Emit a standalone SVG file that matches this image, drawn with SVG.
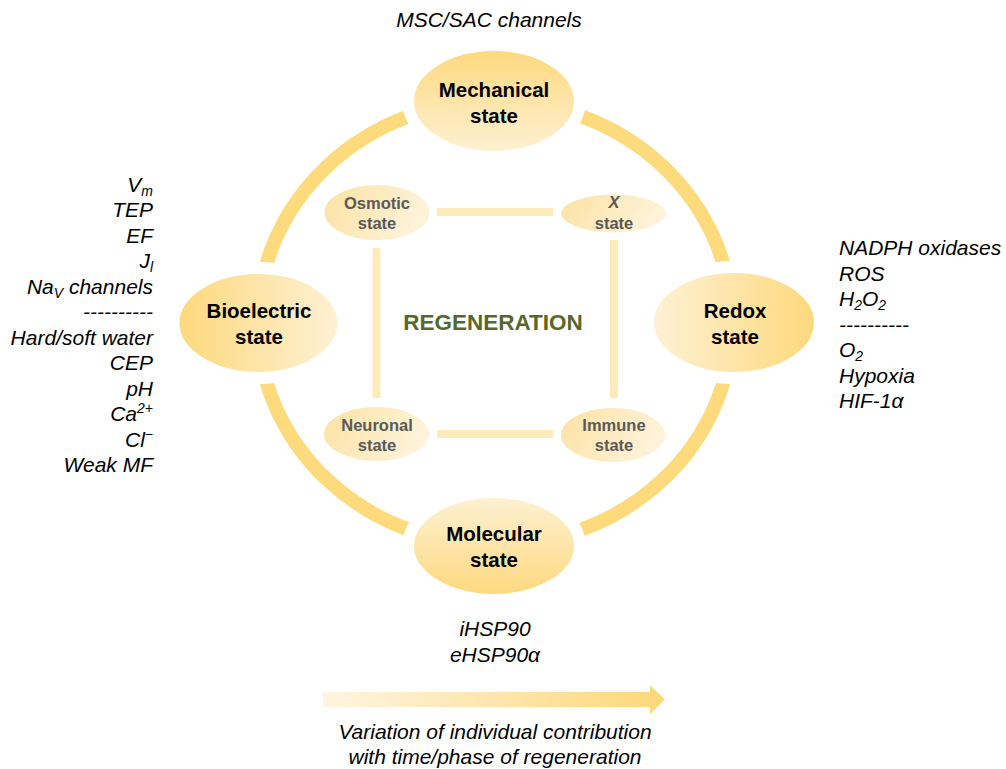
<svg xmlns="http://www.w3.org/2000/svg" width="1006" height="769" viewBox="0 0 1006 769">
  <defs>
    <linearGradient id="gTop" x1="0" y1="0" x2="0" y2="1">
      <stop offset="0" stop-color="#FDD87A"/>
      <stop offset="1" stop-color="#FEF2D7"/>
    </linearGradient>
    <linearGradient id="gBottom" x1="0" y1="1" x2="0" y2="0">
      <stop offset="0" stop-color="#FDD87A"/>
      <stop offset="1" stop-color="#FEF2D7"/>
    </linearGradient>
    <linearGradient id="gLeft" x1="0" y1="0" x2="1" y2="0">
      <stop offset="0" stop-color="#FDD87A"/>
      <stop offset="1" stop-color="#FEF2D7"/>
    </linearGradient>
    <linearGradient id="gRight" x1="1" y1="0" x2="0" y2="0">
      <stop offset="0" stop-color="#FDD87A"/>
      <stop offset="1" stop-color="#FEF2D7"/>
    </linearGradient>
    <linearGradient id="gInner" x1="0" y1="0" x2="1" y2="0.3">
      <stop offset="0" stop-color="#FCE1A0"/>
      <stop offset="1" stop-color="#FEF3DA"/>
    </linearGradient>
    <linearGradient id="gArrow" x1="0" y1="0" x2="1" y2="0">
      <stop offset="0" stop-color="#FEF4E0"/>
      <stop offset="1" stop-color="#FDD879"/>
    </linearGradient>
    <style>
      .ring { fill: none; stroke: #FDDA7C; stroke-width: 14; }
      .link { stroke: #FEEBBA; stroke-width: 8; }
      .big { stroke: #FFFFFF; stroke-width: 12; }
      .small { stroke: #FFFFFF; stroke-width: 6; }
      .lbl { font-family: "Liberation Sans", Arial, sans-serif; font-weight: bold; font-size: 20.5px; fill: #000; text-anchor: middle; }
      .ilbl { font-family: "Liberation Sans", Arial, sans-serif; font-weight: bold; font-size: 16.5px; fill: #595959; text-anchor: middle; }
      .note { font-family: "Liberation Sans", Arial, sans-serif; font-style: italic; font-size: 21px; fill: #000; }
      .regen { font-family: "Liberation Sans", Arial, sans-serif; font-weight: bold; font-size: 22.5px; fill: #56692B; text-anchor: middle; }
    </style>
  </defs>

  <rect width="1006" height="769" fill="#FFFFFF"/>

  <!-- outer ring and inner square links -->
  <g id="connectors">
    <ellipse class="ring" cx="495" cy="323" rx="237" ry="222"/>
    <line class="link" x1="437" y1="212" x2="553" y2="212"/>
    <line class="link" x1="437" y1="434" x2="553" y2="434"/>
    <line class="link" x1="376.5" y1="248" x2="376.5" y2="398"/>
    <line class="link" x1="614" y1="240" x2="614" y2="398"/>
  </g>

  <!-- main states -->
  <g id="mechanical">
    <ellipse class="big" cx="494" cy="101" rx="86" ry="56" fill="url(#gTop)"/>
    <text class="lbl" x="494" y="97">Mechanical</text>
    <text class="lbl" x="494" y="123">state</text>
  </g>
  <g id="bioelectric">
    <ellipse class="big" cx="258.5" cy="323" rx="85" ry="55" fill="url(#gLeft)"/>
    <text class="lbl" x="259" y="318">Bioelectric</text>
    <text class="lbl" x="259" y="344">state</text>
  </g>
  <g id="redox">
    <ellipse class="big" cx="734" cy="322.5" rx="86" ry="55.5" fill="url(#gRight)"/>
    <text class="lbl" x="735" y="318">Redox</text>
    <text class="lbl" x="735" y="344">state</text>
  </g>
  <g id="molecular">
    <ellipse class="big" cx="494" cy="546" rx="86" ry="54" fill="url(#gBottom)"/>
    <text class="lbl" x="494" y="541">Molecular</text>
    <text class="lbl" x="494" y="567">state</text>
  </g>

  <!-- inner states -->
  <g id="osmotic">
    <ellipse class="small" cx="377" cy="212.5" rx="55.5" ry="30.5" fill="url(#gInner)"/>
    <text class="ilbl" x="377" y="209">Osmotic</text>
    <text class="ilbl" x="377" y="229">state</text>
  </g>
  <g id="x-state">
    <ellipse class="small" cx="613.5" cy="213.5" rx="55.5" ry="22" fill="url(#gInner)"/>
    <text class="ilbl" x="614" y="208" font-style="italic">X</text>
    <text class="ilbl" x="614" y="229">state</text>
  </g>
  <g id="neuronal">
    <ellipse class="small" cx="376.5" cy="434" rx="55.5" ry="30" fill="url(#gInner)"/>
    <text class="ilbl" x="377" y="431">Neuronal</text>
    <text class="ilbl" x="377" y="451">state</text>
  </g>
  <g id="immune">
    <ellipse class="small" cx="613" cy="435" rx="55" ry="30" fill="url(#gInner)"/>
    <text class="ilbl" x="614" y="431">Immune</text>
    <text class="ilbl" x="614" y="451">state</text>
  </g>

  <g id="regeneration">
    <text class="regen" x="493" y="330">REGENERATION</text>
  </g>

  <!-- factor lists -->
  <g id="mechanical-factors">
    <text class="note" x="489" y="27" text-anchor="middle">MSC/SAC channels</text>
  </g>

  <g id="bioelectric-factors" text-anchor="end">
    <text class="note" x="153" y="191.5">V<tspan font-size="14" dy="4">m</tspan></text>
    <text class="note" x="153" y="217">TEP</text>
    <text class="note" x="153" y="242.5">EF</text>
    <text class="note" x="153" y="268">J<tspan font-size="14" dy="4">l</tspan></text>
    <text class="note" x="153" y="293.5">Na<tspan font-size="14" dy="4">V</tspan><tspan dy="-4"> channels</tspan></text>
    <text class="note" x="153" y="319">----------</text>
    <text class="note" x="153" y="344.5">Hard/soft water</text>
    <text class="note" x="153" y="370">CEP</text>
    <text class="note" x="153" y="395.5">pH</text>
    <text class="note" x="153" y="421">Ca<tspan font-size="14" dy="-8">2+</tspan></text>
    <text class="note" x="153" y="446.5">Cl<tspan font-size="14" dy="-8">−</tspan></text>
    <text class="note" x="153" y="472">Weak MF</text>
  </g>

  <g id="redox-factors">
    <text class="note" x="839" y="255">NADPH oxidases</text>
    <text class="note" x="839" y="280.5">ROS</text>
    <text class="note" x="839" y="306">H<tspan font-size="14" dy="4">2</tspan><tspan dy="-4">O</tspan><tspan font-size="14" dy="4">2</tspan></text>
    <text class="note" x="839" y="331.5">----------</text>
    <text class="note" x="839" y="357">O<tspan font-size="14" dy="4">2</tspan></text>
    <text class="note" x="839" y="382.5">Hypoxia</text>
    <text class="note" x="839" y="408">HIF-1α</text>
  </g>

  <g id="molecular-factors" text-anchor="middle">
    <text class="note" x="495" y="636">iHSP90</text>
    <text class="note" x="495" y="662">eHSP90α</text>
  </g>

  <!-- time axis -->
  <g id="time-axis">
    <path d="M323,692 L650,692 L650,685 L665,699.5 L650,714 L650,707 L323,707 Z" fill="url(#gArrow)"/>
    <text class="note" x="495" y="739" text-anchor="middle">Variation of individual contribution</text>
    <text class="note" x="495" y="764" text-anchor="middle">with time/phase of regeneration</text>
  </g>
</svg>
